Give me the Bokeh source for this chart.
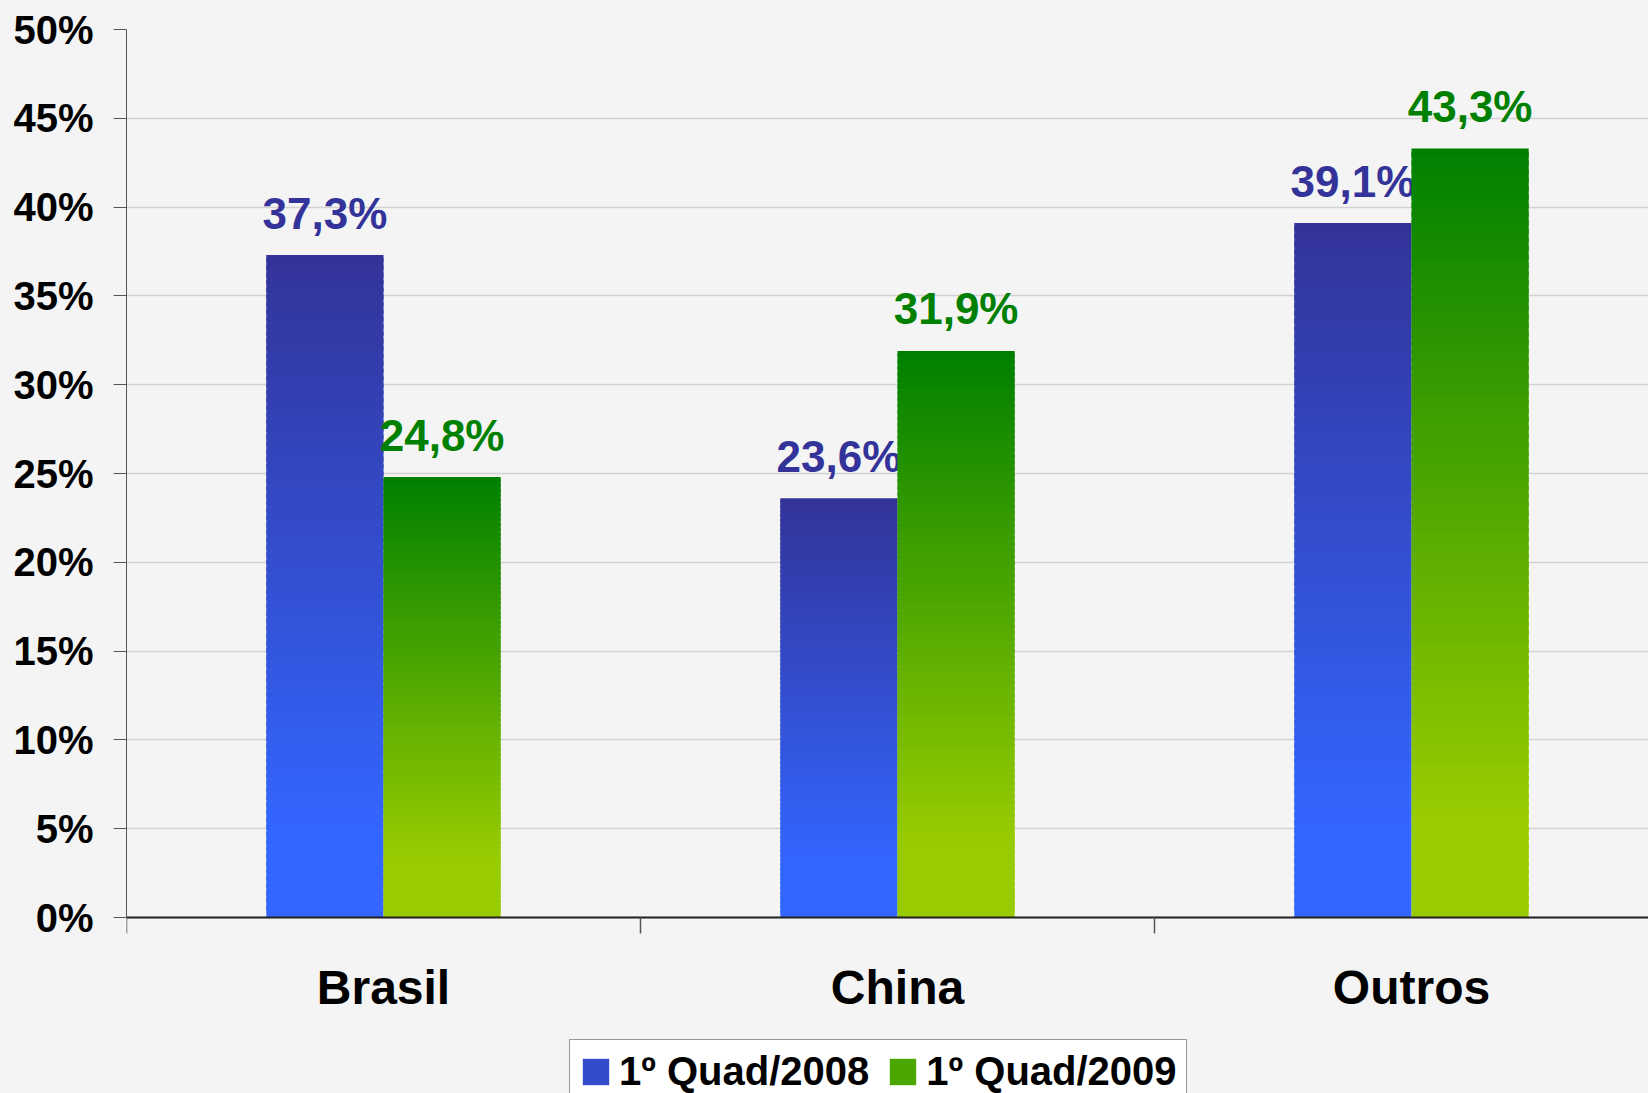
from bokeh.plotting import figure
from bokeh.models import (Range1d, FixedTicker, ColumnDataSource, Legend, LegendItem)
from bokeh.core.properties import value
from bokeh.embed import file_html
from bokeh.resources import INLINE

# ---------------- data ----------------
categories = ["Brasil", "China", "Outros"]
series_names = ["1º Quad/2008", "1º Quad/2009"]
values_2008 = [37.3, 23.6, 39.1]
values_2009 = [24.8, 31.9, 43.3]
y_ticks = [0, 5, 10, 15, 20, 25, 30, 35, 40, 45, 50]
y_tick_labels = ["0%", "5%", "10%", "15%", "20%", "25%", "30%", "35%", "40%", "45%", "50%"]

# ---------------- style / layout ----------------
FONT = "Liberation Sans"
BG = "#f4f4f4"
BAR_W = 0.228
N_SLICES = 90
grad_2008 = ((51, 51, 153), (51, 102, 255))   # top, bottom
grad_2009 = ((0, 128, 0), (153, 204, 0))
label_colors = ["#333399", "#008000"]

SHIFT = 8                     # page margin compensated by negative CSS margin
W, H = 1648 + SHIFT, 1093 + SHIFT
LEFT_PX = 126 + SHIFT         # frame left
TOP_PX = 29 + SHIFT           # frame top (50%)
ZERO_PX = 917 + SHIFT         # y of 0%
CAT_PX = 514                  # width of one category
px_per_unit = (ZERO_PX - TOP_PX) / (y_ticks[-1] - y_ticks[0])
y_lo = -(H - ZERO_PX) / px_per_unit
x_hi = (W - LEFT_PX) / CAT_PX


def lerp(c1, c2, t):
    return "#%02x%02x%02x" % tuple(int(round(a + (b - a) * t)) for a, b in zip(c1, c2))


p = figure(width=W, height=H, output_backend="svg", toolbar_location=None,
           x_range=Range1d(0, x_hi), y_range=Range1d(y_lo, y_ticks[-1]),
           min_border_left=LEFT_PX, min_border_right=0, min_border_top=TOP_PX,
           min_border_bottom=0)
p.margin = (-SHIFT, -2 * SHIFT, -2 * SHIFT, -SHIFT)
p.background_fill_color = BG
p.border_fill_color = BG
p.outline_line_color = None
p.xgrid.grid_line_color = None
p.ygrid.grid_line_color = "#d2d2d2"
p.ygrid.grid_line_width = 1.5

# gradient bars: thin slices with small overlap, drawn bottom to top
renderers = []
for s, (vals, grad, off) in enumerate([(values_2008, grad_2008, -BAR_W / 2),
                                        (values_2009, grad_2009, BAR_W / 2)]):
    xs, bots, tops, cols = [], [], [], []
    for i, v in enumerate(vals):
        for k in range(N_SLICES):
            b = v * k / N_SLICES
            t = min(v * (k + 1.6) / N_SLICES, v)
            t_from_top = 1 - (k + 0.5) / N_SLICES
            xs.append(i + 0.5 + off)
            bots.append(b)
            tops.append(t)
            cols.append(lerp(grad[0], grad[1], min(t_from_top / 0.87, 1.0)))
    src = ColumnDataSource(dict(x=xs, bottom=bots, top=tops, color=cols))
    p.vbar(x="x", top="top", bottom="bottom", width=BAR_W, fill_color="color",
           line_color=None, source=src)
    # legend proxy renderer
    r = p.vbar(x=[0.5], top=[0], bottom=0, width=0, fill_color=lerp(grad[0], grad[1], 0.5),
               line_color=None)
    renderers.append(r)

    lsrc = ColumnDataSource(dict(
        x=[i + 0.5 + off for i in range(len(vals))],
        y=vals,
        t=[("%.1f" % v).replace(".", ",") + "%" for v in vals]))
    p.text(x="x", y="y", text="t", source=lsrc, text_align="center",
           text_baseline="alphabetic", y_offset=-42,
           text_font=value(FONT), text_font_style="bold", text_font_size="44px",
           text_color=label_colors[s])

# y axis
ya = p.yaxis[0]
ya.ticker = FixedTicker(ticks=y_ticks)
ya.bounds = (y_ticks[0], y_ticks[-1])
ya.major_label_overrides = {t: l for t, l in zip(y_ticks, y_tick_labels)}
ya.major_label_text_font = FONT
ya.major_label_text_font_style = "bold"
ya.major_label_text_font_size = "40px"
ya.major_label_text_color = "black"
ya.major_tick_out = 13
ya.major_tick_in = 0
ya.minor_tick_line_color = None
ya.major_tick_line_color = "#555555"
ya.axis_line_color = "#555555"
ya.major_label_standoff = 20

# x axis (placed at 0%)
xa = p.xaxis[0]
xa.fixed_location = 0
xa.ticker = FixedTicker(ticks=[i + 0.5 for i in range(len(categories))],
                        minor_ticks=list(range(len(categories) + 1)))
xa.major_label_overrides = {i + 0.5: c for i, c in enumerate(categories)}
xa.major_label_text_font = FONT
xa.major_label_text_font_style = "bold"
xa.major_label_text_font_size = "48px"
xa.major_label_text_color = "black"
xa.major_tick_line_color = None
xa.major_tick_out = 0
xa.major_tick_in = 0
xa.minor_tick_out = 16
xa.minor_tick_in = 0
xa.minor_tick_line_color = "#555555"
xa.minor_tick_line_width = 1.5
xa.axis_line_color = "#222222"
xa.axis_line_width = 2
xa.major_label_standoff = 27

legend = Legend(items=[LegendItem(label=series_names[0], renderers=[renderers[0]]),
                       LegendItem(label=series_names[1], renderers=[renderers[1]])],
                orientation="horizontal", location=(443, -11),
                label_text_font=FONT, label_text_font_style="bold",
                label_text_font_size="40px", label_text_color="black",
                glyph_width=33, glyph_height=33, label_height=40,
                label_standoff=7, spacing=17, padding=9, margin=0,
                border_line_color="#333333", border_line_width=1.5,
                background_fill_color="white", background_fill_alpha=1.0)
p.add_layout(legend, "center")

open("out.html", "w").write(file_html(p, INLINE))
